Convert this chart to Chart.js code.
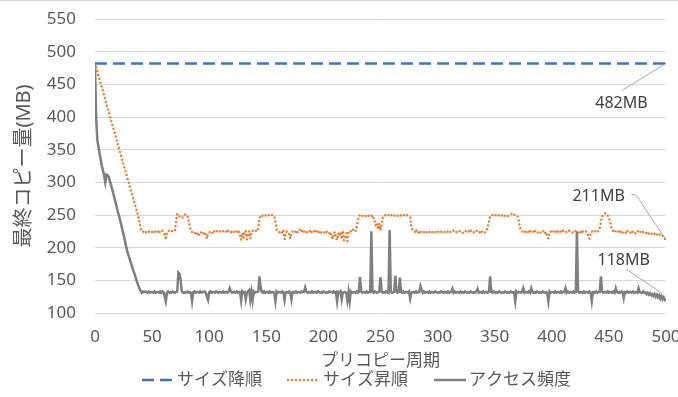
<!DOCTYPE html>
<html>
<head>
<meta charset="utf-8">
<script src="https://cdn.jsdelivr.net/npm/chart.js@4.4.0/dist/chart.umd.min.js"></script>
<style>
  html, body { margin: 0; padding: 0; background: #fff; }
  canvas { display: block; }
</style>
</head>
<body>
<canvas id="copyChart" width="678" height="397"></canvas>
<script>
// プリコピー周期 0..500
const cycles = Array.from({ length: 501 }, (_, i) => i);

// サイズ降順: flat at 482MB the whole way
const sizeDescCycles = [0, 500];
const sizeDesc = [482, 482];

// サイズ昇順
const sizeAsc = [
  482,476,470,463,457,451,445,439,433,426,
  420,414,408,402,395,389,383,377,371,365,
  358,352,346,340,334,327,321,315,309,303,
  297,290,284,278,272,266,260,253,247,238,
  229,225,224,226,225,223,225,224,226,225,
  224,225,223,226,224,225,222,225,224,226,
  223,220,212,224,225,226,224,225,226,225,
  226,240,252,250,248,247,245,247,250,251,
  250,249,241,232,226,224,225,223,222,224,
  220,218,224,223,225,222,224,220,214,222,
  223,225,224,222,226,224,223,225,224,226,
  224,223,225,226,224,225,223,227,226,224,
  225,223,226,224,225,222,224,218,212,222,
  215,224,226,213,221,225,214,224,226,225,
  224,226,225,230,245,249,250,248,249,250,
  248,249,250,249,248,250,249,248,240,228,
  226,224,223,225,222,226,213,220,225,224,
  221,214,222,225,226,224,225,222,226,228,
  224,225,227,224,226,225,223,224,226,222,
  225,224,226,223,225,224,222,226,223,224,
  225,223,226,224,225,222,224,219,213,221,
  224,215,212,222,218,224,213,226,211,220,
  222,210,224,226,225,224,228,226,225,230,
  240,248,250,249,248,250,249,248,250,248,
  249,250,248,250,245,240,232,236,228,237,
  226,235,246,249,250,248,249,250,248,249,
  250,248,249,250,251,249,248,250,249,250,
  251,249,248,250,249,248,246,232,227,226,
  224,228,225,222,226,224,223,225,224,226,
  224,223,225,224,226,224,223,225,224,225,
  223,225,226,224,225,223,224,226,225,224,
  226,224,223,225,226,224,225,223,224,225,
  226,224,223,225,224,226,224,225,223,226,
  224,225,223,224,226,224,225,223,226,224,
  225,223,224,226,232,240,248,249,250,248,
  249,250,248,249,250,248,249,250,248,249,
  250,248,249,250,251,252,253,251,249,248,
  248,242,232,227,225,224,226,223,225,224,
  222,226,224,225,223,226,224,225,222,224,
  223,225,224,226,222,224,218,214,222,225,
  224,226,223,225,224,222,226,224,225,223,
  226,224,225,223,224,226,225,224,223,225,
  224,226,225,223,224,226,222,225,224,223,
  225,222,218,214,221,225,224,226,225,223,
  224,226,230,240,248,250,252,253,251,249,
  245,240,232,227,225,223,226,224,225,222,
  224,226,223,225,224,222,226,224,225,223,
  226,224,225,222,224,226,223,225,224,222,
  224,225,223,222,224,221,223,222,220,222,
  221,223,220,222,221,219,220,218,216,214,
  211
];

// アクセス頻度
const accessFreq = [
  482,400,365,355,345,335,325,318,310,300,
  312,311,308,302,296,290,283,276,269,262,
  255,249,242,235,227,220,212,204,196,190,
  185,179,174,168,163,158,152,147,142,137,
  133,131,133,132,133,132,131,133,131,132,
  132,131,133,131,132,132,131,133,131,133,
  132,125,118,131,133,131,132,131,133,132,
  131,132,133,162,160,150,133,131,132,131,
  132,133,131,132,131,118,132,133,131,132,
  132,131,133,131,132,132,133,131,125,120,
  132,133,131,132,132,131,133,132,131,132,
  132,131,133,131,132,132,131,133,138,133,
  131,132,132,131,133,131,132,132,119,133,
  131,132,121,131,133,135,120,132,119,133,
  131,132,132,133,156,140,132,131,133,131,
  132,132,131,133,131,132,132,131,118,133,
  131,132,132,131,133,131,120,132,132,131,
  133,131,121,132,132,131,133,131,132,132,
  131,133,132,132,139,133,131,132,132,131,
  133,131,132,132,131,133,132,131,132,131,
  133,132,131,132,131,133,132,132,131,133,
  131,132,118,132,131,133,121,131,132,132,
  131,119,132,118,133,131,132,132,131,133,
  131,132,155,133,131,132,132,131,133,131,
  132,132,225,132,131,133,132,131,132,133,
  155,132,131,132,131,133,132,131,227,133,
  131,132,132,157,133,131,132,154,132,131,
  133,131,132,132,131,133,122,131,132,132,
  131,133,131,132,132,141,135,131,133,131,
  132,132,131,133,131,132,132,131,133,132,
  131,132,131,133,132,131,132,132,131,133,
  131,132,132,137,131,133,131,132,132,131,
  133,131,132,131,133,132,131,132,131,133,
  132,131,132,131,133,137,131,132,132,131,
  133,131,132,132,131,133,156,132,131,133,
  132,131,132,131,133,132,131,132,131,133,
  132,131,132,131,133,132,131,132,118,133,
  131,132,132,131,133,138,131,132,132,131,
  133,131,138,132,131,132,131,133,132,131,
  132,131,133,132,131,132,131,118,133,131,
  132,132,131,133,131,132,132,131,133,131,
  132,132,138,131,133,131,132,132,131,133,
  131,132,225,133,131,132,132,131,133,131,
  132,132,131,133,131,118,132,132,131,133,
  131,132,132,156,133,131,132,132,131,133,
  131,132,132,131,133,131,138,132,131,132,
  131,133,132,123,132,131,133,131,132,132,
  131,133,131,132,132,131,138,132,131,131,
  133,131,132,129,131,128,130,127,129,126,
  129,125,128,124,127,122,126,121,124,120,
  118
];

const seriesNames = ['サイズ降順', 'サイズ昇順', 'アクセス頻度'];
const xTicks = [0, 50, 100, 150, 200, 250, 300, 350, 400, 450, 500];
const yTicks = [100, 150, 200, 250, 300, 350, 400, 450, 500, 550];

// end-value callouts (label anchor + leader path, in data units)
const callouts = [
  { text: '482MB', at: [461, 420], path: [[461.8, 441], [500, 482]] },
  { text: '211MB', at: [441, 278], path: [[469.5, 282], [474, 280], [500, 212]] },
  { text: '118MB', at: [463, 181], path: [[465.5, 167], [495.5, 131]] }
];

const FONT = "'Noto Sans', 'Noto Sans CJK JP', sans-serif";
const TEXT = '#595959';

const toPoints = (xs, ys) => ys.map((y, i) => ({ x: xs[i], y }));

const calloutPlugin = {
  id: 'callouts',
  afterDatasetsDraw(chart) {
    const { ctx, scales: { x, y } } = chart;
    ctx.save();
    callouts.forEach((c) => {
      ctx.beginPath();
      c.path.forEach(([px, py], i) => {
        const cx = x.getPixelForValue(px);
        const cy = y.getPixelForValue(py);
        if (i === 0) ctx.moveTo(cx, cy); else ctx.lineTo(cx, cy);
      });
      ctx.strokeStyle = '#a6a6a6';
      ctx.lineWidth = 1;
      ctx.stroke();
      ctx.fillStyle = '#404040';
      ctx.font = '16px ' + FONT;
      ctx.textAlign = 'center';
      ctx.textBaseline = 'middle';
      ctx.fillText(c.text, x.getPixelForValue(c.at[0]), y.getPixelForValue(c.at[1]));
    });
    ctx.restore();
  }
};

// legend drawn by hand so it can sit under the axis title like the original
const legendPlugin = {
  id: 'bottomLegend',
  afterDraw(chart) {
    const { ctx } = chart;
    const sample = 32, gap = 3, spacing = 26, cy = 380;
    ctx.save();
    ctx.font = '17px ' + FONT;
    ctx.textBaseline = 'middle';
    ctx.textAlign = 'left';
    let xPos = 142;
    chart.data.datasets.forEach((ds) => {
      ctx.beginPath();
      ctx.setLineDash(ds.borderDash || []);
      ctx.lineCap = ds.borderCapStyle || 'butt';
      ctx.strokeStyle = ds.borderColor;
      ctx.lineWidth = ds.borderWidth;
      ctx.moveTo(xPos, cy);
      ctx.lineTo(xPos + sample, cy);
      ctx.stroke();
      ctx.setLineDash([]);
      xPos += sample + gap;
      ctx.fillStyle = TEXT;
      ctx.fillText(ds.label, xPos, cy);
      xPos += ctx.measureText(ds.label).width + spacing;
    });
    // thin frame line along the top edge
    ctx.beginPath();
    ctx.strokeStyle = '#d9d9d9';
    ctx.lineWidth = 1;
    ctx.moveTo(0, 0.5);
    ctx.lineTo(chart.width, 0.5);
    ctx.stroke();
    ctx.restore();
  }
};

const ctx = document.getElementById('copyChart').getContext('2d');
new Chart(ctx, {
  type: 'line',
  data: {
    datasets: [
      {
        label: seriesNames[0],
        data: toPoints(sizeDescCycles, sizeDesc),
        borderColor: '#4472C4',
        borderWidth: 2.5,
        borderDash: [12, 6],
        pointRadius: 0
      },
      {
        label: seriesNames[1],
        data: toPoints(cycles, sizeAsc),
        borderColor: '#ED7D31',
        borderWidth: 2.5,
        borderDash: [0, 4],
        borderCapStyle: 'round',
        pointRadius: 0
      },
      {
        label: seriesNames[2],
        data: toPoints(cycles, accessFreq),
        borderColor: '#7F7F7F',
        borderWidth: 2.5,
        pointRadius: 0
      }
    ]
  },
  options: {
    responsive: false,
    animation: false,
    layout: { padding: { left: 0, right: 12, top: 19, bottom: 25 } },
    plugins: {
      legend: { display: false },
      tooltip: { enabled: false }
    },
    scales: {
      x: {
        type: 'linear',
        min: 0,
        max: 500,
        afterBuildTicks: (scale) => { scale.ticks = xTicks.map((v) => ({ value: v })); },
        ticks: { color: TEXT, font: { family: FONT, size: 17 }, padding: 14, maxRotation: 0 },
        grid: { display: false, drawTicks: false },
        border: { display: false },
        title: {
          display: true,
          text: 'プリコピー周期',
          color: TEXT,
          font: { family: FONT, size: 17 },
          padding: { top: 0, bottom: 1 }
        },
        afterFit: (scale) => {
          scale.height = 59;
          scale.paddingLeft = 0;
          scale.paddingRight = 0;
        }
      },
      y: {
        min: 100,
        max: 550,
        afterBuildTicks: (scale) => { scale.ticks = yTicks.map((v) => ({ value: v })); },
        ticks: { color: TEXT, font: { family: FONT, size: 17 }, padding: 19 },
        grid: { color: '#d9d9d9', lineWidth: 1, drawTicks: false },
        border: { display: false },
        title: {
          display: true,
          text: '最終コピー量(MB)',
          color: TEXT,
          font: { family: FONT, size: 20 },
          padding: { top: 12, bottom: 0 }
        },
        afterFit: (scale) => {
          scale.width = 95;
          scale.paddingTop = 0;
          scale.paddingBottom = 0;
        }
      }
    }
  },
  plugins: [calloutPlugin, legendPlugin]
});
</script>
</body>
</html>
